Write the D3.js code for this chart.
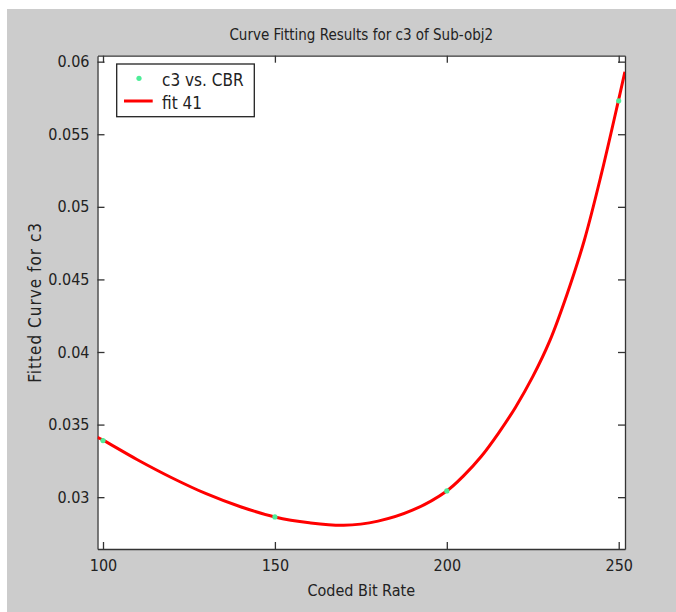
<!DOCTYPE html>
<html lang="en">
<head>
    <meta charset="UTF-8">
    <title>curve fit</title>
    <script src="https://d3js.org/d3.v7.min.js"></script>
    <style>
        body { margin: 0; background: #fff; }
        text { font-family: "DejaVu Sans Condensed", "Liberation Sans Narrow", "Liberation Sans", Arial, sans-serif; fill: #222; }
    </style>
</head>
<body>

<svg width="676" height="612"></svg>

<script>

    // data points (c3 vs. CBR)
    var cbr = [100, 150, 200, 250];
    var c3 = [0.0339, 0.02864, 0.03043, 0.0573];

    // fitted curve
    var fitX = [98.4, 100, 110, 120, 130, 140, 150, 160, 170, 180, 190, 200, 205, 210, 215, 220, 225, 230, 235, 240, 245, 250, 251.8];
    var fitY = [0.03412, 0.03393, 0.03258, 0.03134, 0.03024, 0.02934, 0.02864, 0.02824, 0.02806, 0.02835, 0.0291, 0.03043, 0.0315, 0.0328, 0.0344, 0.0362, 0.0383, 0.0408, 0.0440, 0.0477, 0.0523, 0.0574, 0.0593];

    var xTicks = [100, 150, 200, 250];
    var yTicks = [0.03, 0.035, 0.04, 0.045, 0.05, 0.055, 0.06];

    var svg = d3.select('svg');

    // gray figure background
    svg.append('rect').attr('x', 7).attr('y', 9).attr('width', 669).attr('height', 603).attr('fill', '#cccccc');

    var pLeft = 97.5, pRight = 625, pTop = 55.7, pBottom = 549;

    var x = d3.scaleLinear().domain([98.4, 251.83]).range([pLeft, pRight]);
    var y = d3.scaleLinear().domain([0.02643, 0.06041]).range([pBottom, pTop]);

    // plot area
    svg.append('rect').attr('x', pLeft).attr('y', pTop).attr('width', pRight - pLeft).attr('height', pBottom - pTop)
        .attr('fill', '#fff');

    // clip so the curve stops at the box
    svg.append('clipPath').attr('id', 'clip').append('rect')
        .attr('x', pLeft).attr('y', pTop).attr('width', pRight - pLeft).attr('height', pBottom - pTop);

    // axes (inward ticks on all four sides)
    var axB = svg.append('g').attr('transform', 'translate(0,' + pBottom + ')')
        .call(d3.axisBottom(x).tickValues(xTicks).tickSizeInner(-7).tickSizeOuter(0).tickPadding(11).tickFormat(d3.format('d')));
    var axT = svg.append('g').attr('transform', 'translate(0,' + pTop + ')')
        .call(d3.axisTop(x).tickValues(xTicks).tickSizeInner(-7).tickSizeOuter(0).tickFormat(''));
    var axL = svg.append('g').attr('transform', 'translate(' + pLeft + ',0)')
        .call(d3.axisLeft(y).tickValues(yTicks).tickSizeInner(-7).tickSizeOuter(0).tickPadding(8).tickFormat(function (d) { return String(+d.toFixed(3)); }));
    var axR = svg.append('g').attr('transform', 'translate(' + pRight + ',0)')
        .call(d3.axisRight(y).tickValues(yTicks).tickSizeInner(-7).tickSizeOuter(0).tickFormat(''));

    [axB, axT, axL, axR].forEach(function (a) {
        a.selectAll('path, line').attr('stroke', '#333').attr('stroke-width', 1.3);
        a.selectAll('text').attr('font-size', 16).attr('font-family', null).attr('fill', '#222');
    });

    // fitted curve
    var pts = fitX.map(function (d, i) { return [d, fitY[i]]; });
    var line = d3.line()
        .x(function (d) { return x(d[0]); })
        .y(function (d) { return y(d[1]); })
        .curve(d3.curveCatmullRom.alpha(0.5));

    svg.append('path').datum(pts).attr('d', line).attr('clip-path', 'url(#clip)')
        .attr('fill', 'none').attr('stroke', '#ff0000').attr('stroke-width', 3);

    // data points
    svg.selectAll('.pt').data(cbr).enter().append('circle')
        .attr('cx', function (d) { return x(d); })
        .attr('cy', function (d, i) { return y(c3[i]); })
        .attr('r', 2.6)
        .attr('fill', '#4ded98');

    // legend
    var lg = svg.append('g');
    lg.append('rect').attr('x', 116.7).attr('y', 64).attr('width', 137.6).attr('height', 52.7)
        .attr('fill', '#fff').attr('stroke', '#222').attr('stroke-width', 1.3);
    lg.append('circle').attr('cx', 139).attr('cy', 78.3).attr('r', 2.6).attr('fill', '#4ded98');
    lg.append('text').attr('x', 162).attr('y', 86).attr('font-size', 17).text('c3 vs. CBR');
    lg.append('line').attr('x1', 124).attr('x2', 152.7).attr('y1', 101).attr('y2', 101)
        .attr('stroke', '#ff0000').attr('stroke-width', 3);
    lg.append('text').attr('x', 162).attr('y', 109).attr('font-size', 17).text('fit 41');

    // titles
    svg.append('text').attr('x', (pLeft + pRight) / 2).attr('y', 40).attr('text-anchor', 'middle')
        .attr('font-size', 15).text('Curve Fitting Results for c3 of Sub-obj2');
    svg.append('text').attr('x', (pLeft + pRight) / 2).attr('y', 596).attr('text-anchor', 'middle')
        .attr('font-size', 16).text('Coded Bit Rate');
    svg.append('text').attr('transform', 'translate(41,' + (pTop + pBottom) / 2 + ') rotate(-90)')
        .attr('text-anchor', 'middle').attr('font-size', 17).attr('letter-spacing', 1).text('Fitted Curve for c3');

</script>
</body>
</html>
